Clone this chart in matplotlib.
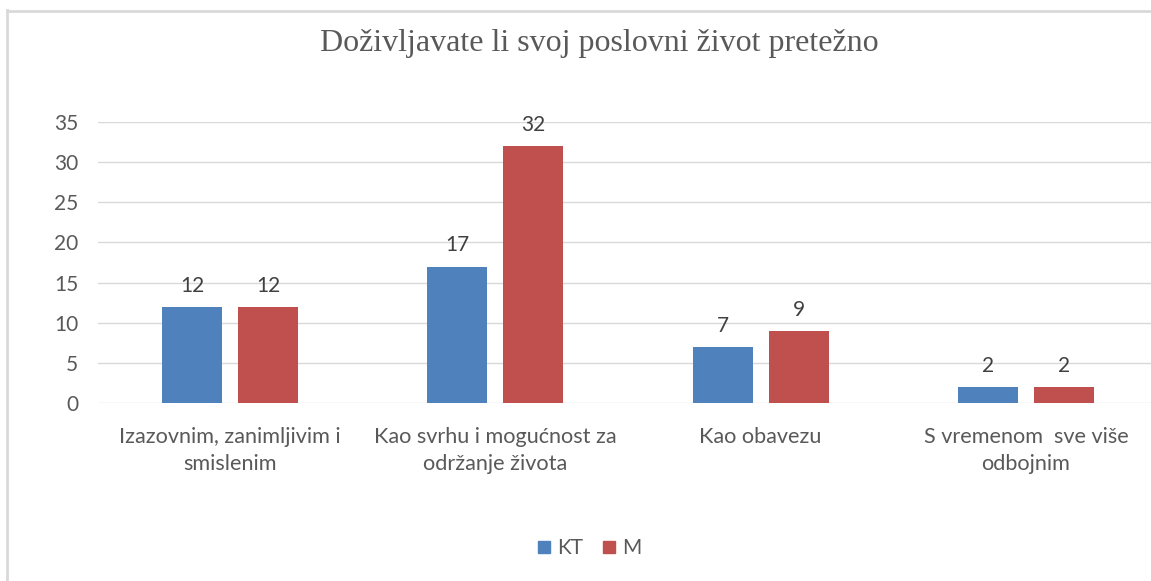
import numpy as np
import matplotlib
matplotlib.use("Agg")
import matplotlib.pyplot as plt
from matplotlib.lines import Line2D

categories = ["Izazovnim, zanimljivim i\nsmislenim",
              "Kao svrhu i mogućnost za\nodržanje života",
              "Kao obavezu",
              "S vremenom  sve više\nodbojnim"]
kt = [12, 17, 7, 2]
m = [12, 32, 9, 2]
series = ["KT", "M"]
colors = ["#4F81BD", "#C0504D"]
title = "Doživljavate li svoj poslovni život pretežno"

W, H = 1151, 581
fig = plt.figure(figsize=(W / 100, H / 100), dpi=100)
txt = "#595959"
fs = 15
plt.rcParams['font.family'] = ['Lato', 'DejaVu Sans']

# axes: x from 97.5px to ~1158px, y from 0 at 403px to 35 at 122px
ax = fig.add_axes([97.5 / W, 1 - 403 / H, (1158.5 - 97.5) / W, (403 - 122) / H])
x = np.arange(len(categories))
bw = 0.226
gap = 0.06
off = (bw + gap) / 2
b1 = ax.bar(x - off, kt, bw, color=colors[0], zorder=3)
b2 = ax.bar(x + off, m, bw, color=colors[1], zorder=3)
for bars in (b1, b2):
    ax.bar_label(bars, padding=8, fontsize=fs, color="#404040")

ax.set_xlim(-0.5, len(categories) - 0.5)
ax.set_ylim(0, 35)
ax.set_yticks(range(0, 36, 5))
ax.grid(axis="y", color="#d9d9d9", lw=1, zorder=0)
for s in ax.spines.values():
    s.set_visible(False)
ax.tick_params(axis="y", length=0, pad=14, labelsize=fs, labelcolor=txt)
ax.tick_params(axis="x", length=0, pad=17, labelsize=15.6, labelcolor=txt)
ax.set_xticks(x)
ax.set_xticklabels(categories, linespacing=1.45)

fig.text(599 / W, 1 - 44 / H, title, ha="center", va="center",
         fontsize=23, color=txt, family=["Liberation Serif", "DejaVu Serif"])

handles = [Line2D([], [], marker="s", ls="", markersize=9, color=c) for c in colors]
fig.legend(handles, series, loc="center", bbox_to_anchor=(588 / W, 1 - 548 / H),
           ncol=2, frameon=False, fontsize=fs, labelcolor=txt,
           handlelength=0.9, handletextpad=0.2, columnspacing=0.8)

# chart frame lines (left and top)
fig.add_artist(Line2D([7 / W, 7 / W], [0, 1 - 10 / H], transform=fig.transFigure,
                      color="#d9d9d9", lw=2))
fig.add_artist(Line2D([7 / W, 1], [1 - 11 / H, 1 - 11 / H], transform=fig.transFigure,
                      color="#d9d9d9", lw=2))

fig.savefig("out.png", dpi=100)
